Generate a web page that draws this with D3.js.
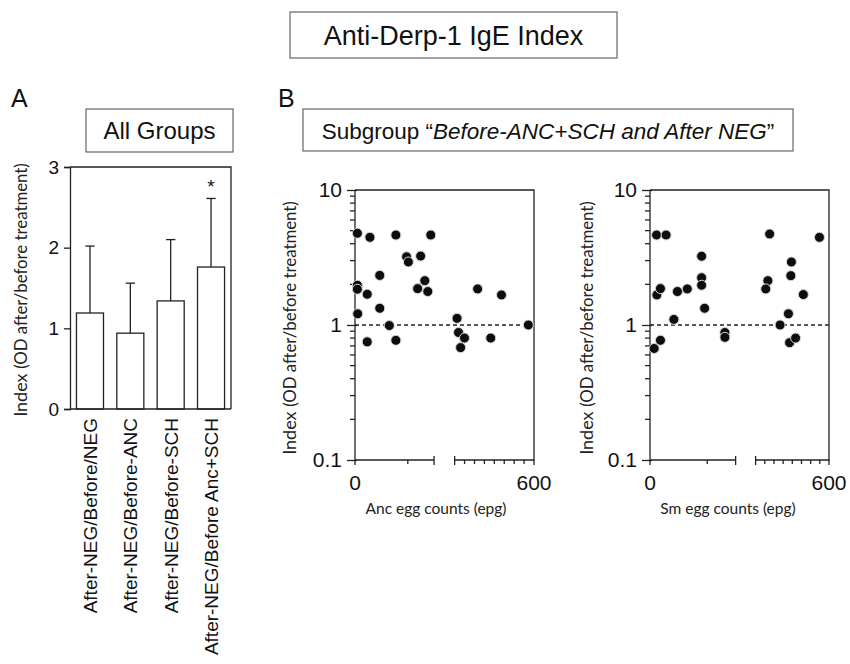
<!DOCTYPE html>
<html>
<head>
<meta charset="utf-8">
<script src="https://cdn.jsdelivr.net/npm/d3@7"></script>
<style>
  body { margin: 0; background: #fff; }
  svg { display: block; }
  .arial { font-family: "Liberation Sans", Arial, sans-serif; fill: #111; }
  .cal { font-family: Lato, "Open Sans", sans-serif; fill: #222; }
  .ax { stroke: #222; stroke-width: 1.3; fill: none; }
  .box { stroke: #666; stroke-width: 1.2; fill: none; }
</style>
</head>
<body>
<script>
// panel A data
var barCategories = ["After-NEG/Before/NEG", "After-NEG/Before-ANC", "After-NEG/Before-SCH", "After-NEG/Before Anc+SCH"];
var barMeans = [1.19, 0.94, 1.34, 1.76];
var barSD = [0.83, 0.62, 0.76, 0.85];
var barMarks = ["", "", "", "*"];
var barTicks = [0, 1, 2, 3];

// panel B data, left: Anc egg counts
var ancEpg = [8, 50, 137, 254, 173, 179, 220, 83, 8, 8, 41, 234, 210, 244, 83, 9, 115, 41, 137, 342, 347, 367, 354, 411, 491, 455, 581];
var ancIndex = [4.78, 4.46, 4.64, 4.64, 3.2, 2.93, 3.24, 2.33, 1.97, 1.84, 1.69, 2.13, 1.86, 1.77, 1.33, 1.21, 0.99, 0.75, 0.77, 1.12, 0.88, 0.80, 0.68, 1.85, 1.67, 0.80, 1.0];
// panel B data, right: Sm egg counts
var smEpg = [14, 22, 54, 23, 35, 35, 80, 92, 125, 173, 173, 173, 183, 251, 251, 401, 395, 388, 474, 472, 464, 436, 468, 488, 514, 568];
var smIndex = [0.67, 4.64, 4.64, 1.67, 1.86, 0.77, 1.10, 1.77, 1.85, 3.23, 2.24, 1.97, 1.33, 0.88, 0.81, 4.72, 2.13, 1.85, 2.93, 2.32, 1.21, 1.0, 0.74, 0.80, 1.68, 4.46];

var logTicksMajor = [0.1, 1, 10];
var xTickLabels = [0, 600];

var svg = d3.select("body").append("svg")
    .attr("width", 850)
    .attr("height", 664);

// ---- titles and boxes ----
function titleBox(x0, y0, x1, y1) {
  svg.append("rect").attr("class", "box")
    .attr("x", x0).attr("y", y0).attr("width", x1 - x0).attr("height", y1 - y0);
}
titleBox(290, 12, 617, 58);
svg.append("text").attr("class", "arial")
  .attr("x", 453.5).attr("y", 45).attr("text-anchor", "middle")
  .style("font-size", "27px").text("Anti-Derp-1 IgE Index");

svg.append("text").attr("class", "arial").attr("x", 11).attr("y", 107)
  .style("font-size", "25px").text("A");
svg.append("text").attr("class", "arial").attr("x", 278).attr("y", 107)
  .style("font-size", "25px").text("B");

titleBox(86, 109, 233, 152);
svg.append("text").attr("class", "arial")
  .attr("x", 159.5).attr("y", 139).attr("text-anchor", "middle")
  .style("font-size", "24px").text("All Groups");

titleBox(303, 109, 793, 151);
var sub = svg.append("text").attr("class", "arial")
  .attr("x", 548).attr("y", 138.5).attr("text-anchor", "middle")
  .style("font-size", "22.5px");
sub.append("tspan").text("Subgroup \u201C");
sub.append("tspan").style("font-style", "italic").text("Before-ANC+SCH and After NEG");
sub.append("tspan").text("\u201D");

function yLabel(cx, cy) {
  var t = svg.append("text").attr("class", "cal")
    .attr("transform", "translate(" + cx + "," + cy + ") rotate(-90)")
    .attr("text-anchor", "middle").attr("dy", "0.35em")
    .style("font-size", "18px");
  t.append("tspan").text("Index ");
  t.append("tspan").style("font-size", "16.8px").text("(OD after/before treatment)");
}

// ---- panel A: bar chart ----
var xBar = d3.scaleBand().domain(barCategories).range([70, 231])
  .paddingInner(0.33).paddingOuter(0.16);
var yBar = d3.scaleLinear().domain([0, 3]).range([409, 167]);

var gA = svg.append("g");
gA.selectAll("rect.bar").data(barCategories).enter().append("rect")
  .attr("class", "ax")
  .attr("x", d => xBar(d))
  .attr("y", (d, i) => yBar(barMeans[i]))
  .attr("width", xBar.bandwidth())
  .attr("height", (d, i) => yBar(0) - yBar(barMeans[i]))
  .style("fill", "#fff");

barCategories.forEach(function (d, i) {
  var cx = xBar(d) + xBar.bandwidth() / 2;
  var top = yBar(barMeans[i] + barSD[i]);
  gA.append("line").attr("class", "ax")
    .attr("x1", cx).attr("x2", cx).attr("y1", yBar(barMeans[i])).attr("y2", top);
  gA.append("line").attr("class", "ax")
    .attr("x1", cx - 4.7).attr("x2", cx + 4.7).attr("y1", top).attr("y2", top);
  if (barMarks[i]) {
    gA.append("text").attr("class", "arial")
      .attr("x", cx).attr("y", top - 5).attr("text-anchor", "middle")
      .style("font-size", "19px").text(barMarks[i]);
  }
  gA.append("text").attr("class", "arial")
    .attr("transform", "translate(" + cx + ",418) rotate(-90)")
    .attr("text-anchor", "end").attr("dy", "0.36em")
    .style("font-size", "19px").text(d);
});

// frame
gA.append("path").attr("class", "ax")
  .attr("d", "M70," + yBar(3) + "H231V" + yBar(0));
gA.append("line").attr("class", "ax")
  .attr("x1", 70).attr("x2", 231).attr("y1", yBar(0)).attr("y2", yBar(0));

var axA = gA.append("g").attr("transform", "translate(70,0)")
  .call(d3.axisLeft(yBar).tickValues(barTicks).tickSize(6).tickPadding(5).tickFormat(d3.format("d")));
axA.select(".domain").attr("stroke-width", 1.3).attr("stroke", "#222");
axA.selectAll(".tick line").attr("stroke-width", 1.3).attr("stroke", "#222");
axA.selectAll(".tick text").attr("class", "arial").style("font-size", "19px").attr("font-family", null);

yLabel(21, 290);

// ---- panel B: scatter plots ----
var yLog = d3.scaleLog().domain([0.1, 10]).range([460, 190]);

function scatter(xs, ys, x0, x1, breakA, breakB, midTick, xTitle, labelX, titleX) {
  var x = d3.scaleLinear().domain([0, 600]).range([x0, x1]);
  var g = svg.append("g");
  var yb = yLog(0.1);

  // frame top and right
  g.append("path").attr("class", "ax")
    .attr("d", "M" + x0 + "," + yLog(10) + "H" + x(600) + "V" + (yb + 1));

  // y axis with log ticks
  var ay = g.append("g").attr("transform", "translate(" + x0 + ",0)")
    .call(d3.axisLeft(yLog).tickValues(logTicksMajor).tickSize(8).tickPadding(5)
      .tickFormat(d => d3.format("~g")(d)));
  ay.select(".domain").attr("stroke-width", 1.3).attr("stroke", "#222")
    .attr("d", "M0," + yLog(10) + "V" + (yb + 5));
  ay.selectAll(".tick line").attr("stroke-width", 1.3).attr("stroke", "#222").attr("x2", -8);
  ay.selectAll(".tick line").each(function () { d3.select(this).attr("x1", 2); });
  ay.selectAll(".tick text").attr("class", "arial").style("font-size", "21px").attr("font-family", null);
  var minor = yLog.ticks().filter(v => logTicksMajor.indexOf(v) < 0);
  g.selectAll("line.minor").data(minor).enter().append("line").attr("class", "ax")
    .attr("x1", x0 - 5).attr("x2", x0).attr("y1", d => yLog(d)).attr("y2", d => yLog(d));

  // broken x axis
  g.append("line").attr("class", "ax")
    .attr("x1", x0).attr("x2", x(breakA)).attr("y1", yb).attr("y2", yb);
  g.append("line").attr("class", "ax")
    .attr("x1", x(breakB)).attr("x2", x(600)).attr("y1", yb).attr("y2", yb);
  [breakA, breakB].forEach(function (v) {
    g.append("line").attr("class", "ax")
      .attr("x1", x(v)).attr("x2", x(v)).attr("y1", yb - 4).attr("y2", yb + 5);
  });
  g.append("line").attr("class", "ax")
    .attr("x1", x(600)).attr("x2", x(600)).attr("y1", yb).attr("y2", yb + 5);
  var minorX = [midTick].concat(d3.range(1, 8).map(k => breakB + k * (600 - breakB) / 8));
  g.selectAll("line.mx").data(minorX).enter().append("line").attr("class", "ax")
    .attr("x1", d => x(d)).attr("x2", d => x(d)).attr("y1", yb).attr("y2", yb + 4);
  g.selectAll("text.xt").data(xTickLabels).enter().append("text").attr("class", "arial")
    .attr("x", d => x(d)).attr("y", 490).attr("text-anchor", "middle")
    .style("font-size", "21px").text(d => d);
  g.append("text").attr("class", "cal")
    .attr("x", titleX).attr("y", 514).attr("text-anchor", "middle")
    .style("font-size", "15.5px").text(xTitle);

  // reference line at 1
  g.append("line").attr("x1", x0).attr("x2", x(600)).attr("y1", yLog(1)).attr("y2", yLog(1))
    .attr("stroke", "#222").attr("stroke-width", 1.5).attr("stroke-dasharray", "4,3");

  g.selectAll("circle").data(xs).enter().append("circle")
    .attr("cx", d => x(d))
    .attr("cy", (d, i) => yLog(ys[i]))
    .attr("r", 5)
    .attr("fill", "#0d0d0d")
    .attr("stroke", "#d8d8d8")
    .attr("stroke-width", 1);

  yLabel(labelX, 328);
}

scatter(ancEpg, ancIndex, 355, 534, 265, 334, 177, "Anc egg counts (epg)", 290, 436);
scatter(smEpg, smIndex, 650, 829, 287, 354, 192, "Sm egg counts (epg)", 587, 728);
</script>
</body>
</html>
